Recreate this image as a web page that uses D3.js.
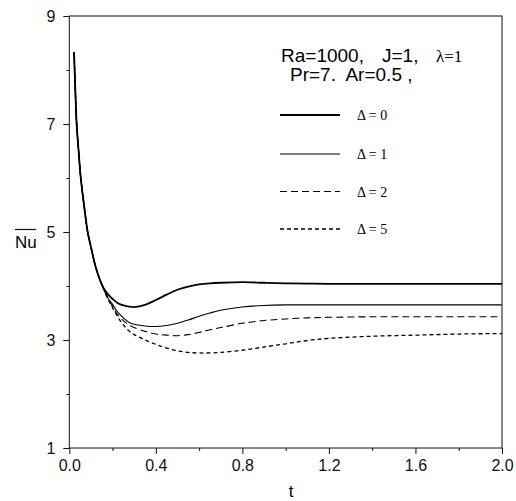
<!DOCTYPE html>
<html>
<head>
<meta charset="utf-8">
<script src="https://cdn.jsdelivr.net/npm/d3@7"></script>
<style>
  body { margin: 0; background: #fff; }
  svg { display: block; }
  .tick text { font-family: "Liberation Sans", Arial, sans-serif; font-size: 16px; fill: #111; }
  .tick line { stroke: #111; }
</style>
</head>
<body>
<svg width="516" height="501"></svg>
<script>
// time axis (t) shared by all curves
var tVals = [0.022, 0.028, 0.034, 0.043, 0.053, 0.068, 0.085, 0.103, 0.12, 0.14, 0.16, 0.18, 0.2, 0.225, 0.25, 0.275, 0.3, 0.35, 0.4, 0.45, 0.5, 0.55, 0.6, 0.65, 0.7, 0.8, 0.9, 1.0, 1.1, 1.2, 1.4, 1.6, 1.8, 2.0];

var nuD0 = [8.33, 7.6, 7.0, 6.5, 6.0, 5.5, 5.0, 4.67, 4.38, 4.13, 3.95, 3.84, 3.76, 3.68, 3.64, 3.62, 3.61, 3.65, 3.74, 3.84, 3.93, 3.99, 4.03, 4.05, 4.06, 4.07, 4.06, 4.05, 4.045, 4.04, 4.04, 4.04, 4.04, 4.04];
var nuD1 = [8.33, 7.6, 7.0, 6.5, 6.0, 5.5, 5.0, 4.67, 4.38, 4.13, 3.94, 3.77, 3.66, 3.51, 3.41, 3.33, 3.29, 3.26, 3.25, 3.27, 3.31, 3.37, 3.44, 3.50, 3.55, 3.61, 3.64, 3.65, 3.65, 3.65, 3.65, 3.65, 3.65, 3.65];
var nuD2 = [8.33, 7.6, 7.0, 6.5, 6.0, 5.5, 5.0, 4.67, 4.38, 4.13, 3.93, 3.76, 3.62, 3.46, 3.36, 3.28, 3.23, 3.16, 3.11, 3.09, 3.08, 3.10, 3.14, 3.19, 3.23, 3.31, 3.36, 3.39, 3.41, 3.42, 3.43, 3.43, 3.43, 3.43];
var nuD5 = [8.33, 7.6, 7.0, 6.5, 6.0, 5.5, 5.0, 4.67, 4.38, 4.13, 3.93, 3.75, 3.60, 3.42, 3.28, 3.17, 3.10, 3.00, 2.92, 2.85, 2.80, 2.77, 2.76, 2.76, 2.77, 2.81, 2.87, 2.93, 2.99, 3.03, 3.07, 3.09, 3.11, 3.12];

var seriesNames = ["\u0394 = 0", "\u0394 = 1", "\u0394 = 2", "\u0394 = 5"];
var xMajor = [0, 0.4, 0.8, 1.2, 1.6, 2.0];
var xMinor = [0.2, 0.6, 1.0, 1.4, 1.8];
var yMajor = [1, 3, 5, 7, 9];
var yMinor = [2, 4, 6, 8];

var svg = d3.select("svg"),
    plotL = 69.3, plotR = 502, plotT = 16, plotB = 448;

var x = d3.scaleLinear().domain([0, 2]).range([plotL, plotR]);
var y = d3.scaleLinear().domain([1, 9]).range([plotB, plotT]);

var styles = [
    { w: 1.8, dash: null },
    { w: 1.1, dash: null },
    { w: 1.1, dash: "7,4" },
    { w: 1.3, dash: "4,3" }
];

var allSeries = [nuD0, nuD1, nuD2, nuD5].map(function (vals) {
    return vals.map(function (v, i) { return [tVals[i], v]; });
});

// axes
svg.append("g")
    .attr("transform", "translate(0," + plotB + ")")
    .call(d3.axisBottom(x).tickValues(xMajor).tickSize(6).tickSizeOuter(0).tickPadding(6)
        .tickFormat(d3.format(".1f")))
    .call(function (g) { g.select(".domain").remove(); });

svg.append("g")
    .attr("transform", "translate(0," + plotB + ")")
    .call(d3.axisBottom(x).tickValues(xMinor).tickSize(3).tickSizeOuter(0).tickFormat(""))
    .call(function (g) { g.select(".domain").remove(); });

svg.append("g")
    .attr("transform", "translate(" + plotL + ",0)")
    .call(d3.axisLeft(y).tickValues(yMajor).tickSize(6).tickSizeOuter(0).tickPadding(8))
    .call(function (g) { g.select(".domain").remove(); });

svg.append("g")
    .attr("transform", "translate(" + plotL + ",0)")
    .call(d3.axisLeft(y).tickValues(yMinor).tickSize(3).tickSizeOuter(0).tickFormat(""))
    .call(function (g) { g.select(".domain").remove(); });

// frame
svg.append("rect")
    .attr("x", plotL).attr("y", plotT)
    .attr("width", plotR - plotL).attr("height", plotB - plotT)
    .attr("fill", "none").attr("stroke", "#111").attr("stroke-width", 1);

// curves
var line = d3.line()
    .x(function (d) { return x(d[0]); })
    .y(function (d) { return y(d[1]); })
    .curve(d3.curveCatmullRom.alpha(0.5));

svg.selectAll("path.curve")
    .data(allSeries)
    .enter().append("path")
    .attr("class", "curve")
    .attr("d", line)
    .attr("fill", "none")
    .attr("stroke", "#000")
    .attr("stroke-width", function (d, i) { return styles[i].w; })
    .attr("stroke-dasharray", function (d, i) { return styles[i].dash; });

// axis titles
svg.append("text")
    .attr("x", 291).attr("y", 497)
    .attr("text-anchor", "middle")
    .style("font-family", "Liberation Sans, Arial, sans-serif")
    .style("font-size", "17px")
    .text("t");

svg.append("text")
    .attr("x", 15).attr("y", 248)
    .style("font-family", "Liberation Sans, Arial, sans-serif")
    .style("font-size", "17px")
    .text("Nu");
svg.append("line")
    .attr("x1", 15).attr("x2", 36).attr("y1", 229.5).attr("y2", 229.5)
    .attr("stroke", "#111").attr("stroke-width", 1.2);

// parameters text
var p1 = svg.append("text")
    .attr("y", 62)
    .style("font-family", "Liberation Sans, Arial, sans-serif")
    .style("font-size", "19px");
p1.append("tspan").attr("x", 281).text("Ra=1000,");
p1.append("tspan").attr("x", 382).text("J=1,");
p1.append("tspan").attr("x", 436)
    .style("font-family", "Liberation Serif, Times New Roman, serif")
    .style("font-size", "17px")
    .text("\u03bb=1");

svg.append("text")
    .attr("x", 290).attr("y", 81)
    .attr("xml:space", "preserve")
    .style("font-family", "Liberation Sans, Arial, sans-serif")
    .style("font-size", "19px")
    .text("Pr=7.  Ar=0.5 ,");

// legend
var legendY = [115, 154, 191.5, 229];
var leg = svg.selectAll("g.leg")
    .data(seriesNames)
    .enter().append("g")
    .attr("class", "leg")
    .attr("transform", function (d, i) { return "translate(0," + legendY[i] + ")"; });

leg.append("line")
    .attr("x1", 280).attr("x2", 340)
    .attr("stroke", "#000")
    .attr("stroke-width", function (d, i) { return styles[i].w; })
    .attr("stroke-dasharray", function (d, i) { return styles[i].dash; });

leg.append("text")
    .attr("x", 357).attr("y", 5)
    .attr("xml:space", "preserve")
    .style("font-family", "Liberation Serif, Times New Roman, serif")
    .style("font-size", "14px")
    .text(function (d) { return d; });
</script>
</body>
</html>
